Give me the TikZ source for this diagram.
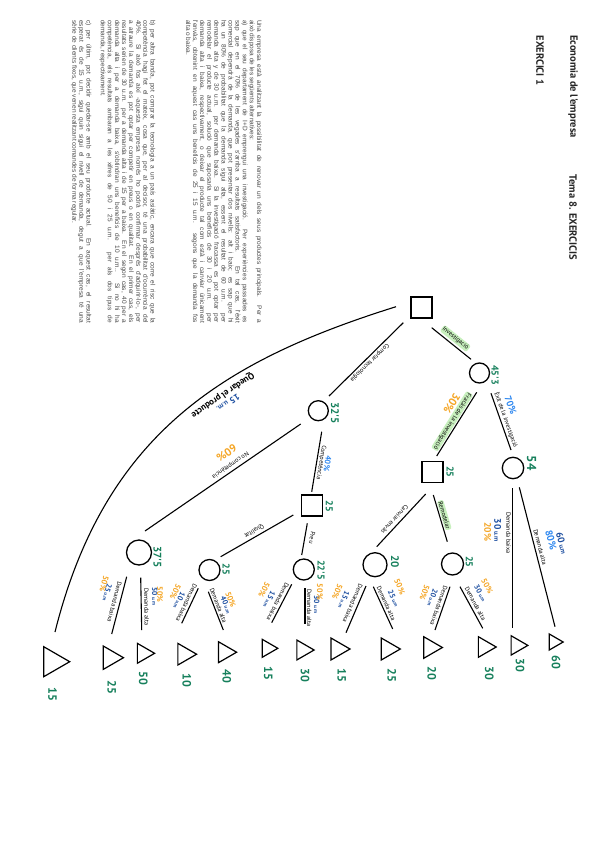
\documentclass[tikz,border=0pt]{standalone}
\usepackage{fontspec}
\setmainfont{Liberation Sans}
\newfontfamily\hand{PT Sans}
\usetikzlibrary{calc,shapes.geometric}
\definecolor{tgreen}{RGB}{22,128,92}
\definecolor{dblue}{RGB}{28,78,160}
\definecolor{bblue}{RGB}{45,135,240}
\definecolor{orng}{RGB}{245,165,35}
\definecolor{hl}{RGB}{200,240,190}
\definecolor{bodygray}{RGB}{75,75,75}
\newcommand\umv[1]{#1\,{\fontsize{5}{5}\selectfont u.m}}
\newcommand\umV[1]{#1\,{\fontsize{6.5}{6.5}\selectfont u.m}}
\begin{document}
\begin{tikzpicture}[x=1pt,y=-1pt,
  sq/.style={draw, line width=1.3pt, minimum size=21pt, inner sep=0},
  ch/.style={draw, circle, line width=1.3pt, minimum size=21pt, inner sep=0},
  leaf/.style={draw, regular polygon, regular polygon sides=3, rotate=-90, line width=1.2pt, minimum size=23pt, inner sep=0},
  edge/.style={line width=1.1pt},
  val/.style={text=tgreen, font=\hand\bfseries\fontsize{10}{10}\selectfont, rotate=-90, inner sep=0},
  leafval/.style={text=tgreen, font=\hand\bfseries\fontsize{12}{12}\selectfont, rotate=-90, inner sep=0},
  el/.style={sloped, allow upside down, font=\hand\fontsize{6.2}{6.2}\selectfont, inner sep=0.5pt},
  hlab/.style={el, fill=hl, rounded corners=2pt, inner sep=1pt},
  um/.style={sloped, allow upside down, text=dblue, font=\hand\bfseries\fontsize{7.5}{7.5}\selectfont, inner sep=0.5pt},
  pb/.style={sloped, allow upside down, text=bblue, font=\hand\bfseries\fontsize{8}{8}\selectfont, inner sep=0.5pt},
  po/.style={sloped, allow upside down, text=orng, font=\hand\bfseries\fontsize{8}{8}\selectfont, inner sep=0.5pt},
  title/.style={rotate=-90, font=\hand\bfseries\fontsize{10.5}{10.5}\selectfont, text=black!85, inner sep=0},
  body/.style={rotate=-90, anchor=north west, text width=303pt, align=justify, font=\fontsize{6.5}{7.1}\selectfont, text=bodygray, inner sep=0},
]
\useasboundingbox[fill=white] (0,0) rectangle (599,848);

% titles
\node[title] (t1) at (573,86.5) {Economia de l'empresa};
\node[title] (t2) at (573,217.5) {Tema 8. EXERCICIS};
\node[title] (t3) at (540,60.5) {EXERCICI 1};

% statement
\node[body] (pa) at (262,20) {Una empresa està analitzant la possibilitat de renovar un dels seus productes principals. Per a\linebreak
això disposa de les següents alternatives:\par
\hangindent=5.5pt\hangafter=1 a) que el seu departament de I+D emprengui una investigació. Per experiències passades es\linebreak
sap que en el 70\% de les vegades s'arriba a resultats satisfactoris. En tal cas, l'èxit\linebreak
comercial dependrà de la demanda, que pot presentar dos nivells: alt i baix; es sap que hi\linebreak
ha un 80\% de probabilitat que la demanda sigui alta, essent el resultat de 60 u.m. per\linebreak
demanda alta y de 30 u.m. per demanda baixa. Si la investigació fracassa es pot optar per\linebreak
remodelar el producte actual, solució que suposaria uns beneficis de 30 i 20 u.m. per\linebreak
demanda alta i baixa, respectivament, o deixar el producte tal com està i canviar únicament\linebreak
l'envàs, obtenint en aquest cas uns beneficis de 25 i 15 u.m. segons que la demanda fos\linebreak
alta o baixa.};

\node[body] (pb) at (155.5,20) {\hangindent=6pt\hangafter=1 b) per altra banda, pot comprar la tecnologia a un país asiàtic, encara que corre el risc que la\linebreak
competència hagi fet el mateix, cosa que, per al decisor, té una probabilitat d'ocurrència del\linebreak
40\%. Si això fos així -aquesta empresa només ho podrà confirmar després d'adquirir-lo-, per\linebreak
a atraure la demanda es pot optar per competir en preus o en qualitat. En el primer cas, els\linebreak
resultats serien de 30 u.m. per a demanda alta i de 15 per a baixa. En el segon cas, 40 per a\linebreak
demanda alta i per a demanda baixa, s'obtindran uns beneficis de 10 u.m.. Si no hi ha\linebreak
competència, els resultats arribaran a les xifres de 50 i 25 u.m. per als dos tipus de\linebreak
demanda, respectivament.};

\node[body] (pc) at (91.5,20) {\hangindent=6pt\hangafter=1 c) per últim, pot decidir quedar-se amb el seu producte actual. En aquest cas, el resultat\linebreak
esperat és de 15 u.m., sigui quin sigui el nivell de demanda, degut a que l'empresa té una\linebreak
sèrie de clients fixos, que venen realitzant comandes de forma regular.};

% decision and chance nodes
\node[sq] (root) at (421.5,307.5) {};
\node[ch, minimum size=20pt] (inv) at (479.5,373) {};
\node[ch, minimum size=21.4pt] (exit) at (513,468) {};
\node[sq] (fail) at (432.5,472) {};
\node[ch, minimum size=20pt] (comp) at (318.3,410.7) {};
\node[sq] (compsq) at (312,505.5) {};
\node[ch, minimum size=25pt] (nocomp) at (139,552.5) {};
\node[ch] (qual) at (209.5,570) {};
\node[ch] (preu) at (303.8,569.5) {};
\node[ch, minimum size=24pt] (envas) at (375,564.7) {};
\node[ch, minimum size=22pt] (remod) at (452.5,564) {};

% leaves
\node[leaf, minimum size=18.5pt] (t60) at (553.9,642) {};
\node[leaf, minimum size=22.3pt] (t30a) at (516.7,645.4) {};
\node[leaf, minimum size=23.8pt] (t30b) at (484.3,647) {};
\node[leaf, minimum size=25pt] (t20a) at (429.9,647.5) {};
\node[leaf, minimum size=25.4pt] (t25a) at (387.6,649) {};
\node[leaf, minimum size=25.4pt] (t15a) at (337.3,649) {};
\node[leaf, minimum size=23pt] (t30c) at (302.6,650) {};
\node[leaf, minimum size=20.8pt] (t15b) at (267.4,648.3) {};
\node[leaf, minimum size=24.2pt] (t40) at (224.5,652.2) {};
\node[leaf, minimum size=25pt] (t10) at (184.1,654.2) {};
\node[leaf, minimum size=23pt] (t50) at (143.1,653.3) {};
\node[leaf, minimum size=27pt] (t25b) at (110,657.7) {};
\node[leaf, minimum size=34.6pt] (t15q) at (52.4,661.7) {};

% node values
\node[val] (v45) at (495,375) {45'3};
\node[val, font=\hand\bfseries\fontsize{13}{13}\selectfont] (v54) at (531.7,463) {54};
\node[val] (v25f) at (450,471.7) {25};
\node[val, font=\hand\bfseries\fontsize{11}{11}\selectfont] (v325) at (335,413) {32'5};
\node[val] (v25c) at (329.3,506) {25};
\node[val, font=\hand\bfseries\fontsize{11}{11}\selectfont] (v375) at (157.3,557) {37'5};
\node[val] (v25q) at (226,569) {25};
\node[val] (v225) at (321,570) {22'5};
\node[val, font=\hand\bfseries\fontsize{11}{11}\selectfont] (v20e) at (395,561.7) {20};
\node[val] (v25r) at (469.3,561.7) {25};

% leaf values
\node[leafval] (l60) at (556,662.7) {60};
\node[leafval] (l30a) at (520,665) {30};
\node[leafval] (l30b) at (489.3,673.3) {30};
\node[leafval] (l20a) at (431.7,673.3) {20};
\node[leafval] (l25a) at (391.7,675) {25};
\node[leafval] (l15a) at (341.7,675) {15};
\node[leafval] (l30c) at (305,675) {30};
\node[leafval] (l15b) at (268.3,673) {15};
\node[leafval] (l40) at (226.7,676) {40};
\node[leafval] (l10) at (186.7,680) {10};
\node[leafval] (l50) at (143.3,678) {50};
\node[leafval] (l25b) at (111.7,687) {25};
\node[leafval] (l15q) at (52.5,694) {15};

% first-level branches
\draw[edge] ($(root)+(10.2,20.2)$) -- node[hlab, pos=.5, above=2pt] {Investigació} ($(inv)+(-8.5,-13.7)$);
\draw[edge] ($(inv)+(11.5,20.3)$) -- node[el, pos=.5, above=1pt] {Èxit de la investigació} node[pb, pos=.3, above=10pt, font=\hand\bfseries\fontsize{9.5}{9.5}\selectfont] {70\%} ($(exit)+(-2,-18)$);
\draw[edge] ($(inv)+(-2.8,19.3)$) -- node[hlab, pos=.5, below=1pt] {Fracàs de la investigació} node[po, pos=.3, below=10pt, font=\hand\bfseries\fontsize{11}{11}\selectfont] {30\%} ($(fail)+(4.2,-16)$);
\draw[edge] ($(root)+(-18.2,15.2)$) -- node[el, pos=.5, above=1pt] {Comprar tecnologia} ($(comp)+(10.7,-14.7)$);
\draw[edge] ($(comp)+(3.4,21)$) -- node[el, pos=.5, above=0.5pt] {Competència} node[pb, pos=.5, above=7pt] {40\%} ($(compsq)+(-0.3,-13.8)$);
\draw[edge] ($(comp)+(-17.6,13.3)$) -- node[el, pos=.43, below=2pt] {No competència} node[po, pos=.41, below=13pt, font=\hand\bfseries\fontsize{11}{11}\selectfont] {60\%} ($(nocomp)+(6,-21.5)$);
\draw[edge] ($(compsq)+(-18.7,9.5)$) -- node[el, pos=.5, below=2pt] {Qualitat} ($(qual)+(11.2,-13.3)$);
\draw[edge] ($(compsq)+(-4.7,17.8)$) -- node[el, pos=.42, above=4pt] {Preu} ($(preu)+(-2.1,-14.5)$);
\draw[edge] ($(fail)+(-6.8,22)$) -- node[el, pos=.55, below=2pt] {Canviar envàs} ($(envas)+(1.7,-18)$);
\draw[edge] ($(fail)+(0.8,23)$) -- node[hlab, pos=.46, above=1pt] {Remodelar} ($(remod)+(-5.2,-22.3)$);

% quedar el producte
\draw[edge] ($(root)+(-25.5,-0.8)$) .. controls (226,360) and (105,432) .. node[pos=.40, sloped, allow upside down, above=5pt, font=\hand\bfseries\fontsize{9}{9}\selectfont, inner sep=0.5pt] {Quedar el producte} node[um, pos=.40, above=16pt, font=\hand\bfseries\fontsize{9}{9}\selectfont] {15 {\fontsize{7}{7}\selectfont u.m.}} ($(t15q)+(2.6,-29.7)$);

% demand branches
\draw[edge] ($(exit)+(-0.7,20.3)$) -- node[el,pos=.32,below=0.5pt]{Demanda baixa} node[um,pos=.3,below=10pt,font=\hand\bfseries\fontsize{9.5}{9.5}\selectfont]{\umV{30}} node[po,pos=.31,below=20pt,font=\hand\bfseries\fontsize{9.5}{9.5}\selectfont]{20\%} ($(t30a)+(-4.4,-17.1)$);
\draw[edge] ($(exit)+(6.3,19.3)$) -- node[el,pos=.44,above=2pt]{Demanda alta} node[pb,pos=.41,above=13pt,font=\hand\bfseries\fontsize{10}{10}\selectfont]{80\%} node[um,pos=.45,above=23pt,font=\hand\bfseries\fontsize{9.5}{9.5}\selectfont]{\umV{60}} ($(t60)+(1.1,-15.3)$);
\draw[edge] ($(remod)+(-2.5,22.7)$) -- node[el,pos=.47,below=1pt]{Demanda baixa} node[um,pos=.35,below=9pt]{\umv{20}} node[po,pos=.3,below=18pt]{50\%} ($(t20a)+(5.1,-17.5)$);
\draw[edge] ($(remod)+(7.5,22.7)$) -- node[el,pos=.47,above=2pt]{Demanda alta} node[um,pos=.33,above=11pt]{\umv{30}} node[po,pos=.27,above=20pt]{50\%} ($(t30b)+(-1.6,-18.7)$);
\draw[edge] ($(envas)+(-9,21.3)$) -- node[el,pos=.42,below=2pt]{Demanda baixa} node[um,pos=.42,below=11pt]{\umv{15}} node[po,pos=.33,below=20pt]{50\%} ($(t15a)+(8.7,-16.3)$);
\draw[edge] ($(envas)+(-1.7,22)$) -- node[el,pos=.44,above=1.5pt]{Demanda alta} node[um,pos=.41,above=10pt]{\umv{25}} node[po,pos=.24,above=20pt]{50\%} ($(t25a)+(5.1,-20)$);
\draw[edge] ($(preu)+(1.2,18.8)$) -- node[el,pos=.55,above=1pt]{Demanda alta} node[um,pos=.45,above=8pt]{\umv{30}} node[po,pos=.1,above=11pt]{50\%} ($(t30c)+(2.4,-26)$);
\draw[edge] ($(preu)+(-12.1,14.8)$) -- node[el,pos=.5,below=1pt]{Demanda baixa} node[um,pos=.55,below=9pt]{\umv{15}} node[po,pos=.4,below=18pt]{50\%} ($(t15b)+(4.3,-25.6)$);
\draw[edge] ($(qual)+(-11.2,18.3)$) -- node[el,pos=.47,below=1pt]{Demanda baixa} node[um,pos=.5,below=8pt]{\umv{10}} node[po,pos=.34,below=15pt]{50\%} ($(t10)+(-2.4,-30.9)$);
\draw[edge] ($(qual)+(-1.2,21.7)$) -- node[el,pos=.4,above=1pt]{Demanda alta} node[um,pos=.46,above=8pt]{\umv{40}} node[po,pos=.38,above=14pt]{50\%} ($(t40)+(-1.2,-22.2)$);
\draw[edge] ($(nocomp)+(-12.3,24.2)$) -- node[el,pos=.47,below=2pt]{Demanda baixa} node[um,pos=.34,below=11pt]{\umv{25}} node[po,pos=.21,below=16pt]{50\%} ($(t25b)+(1.7,-23.7)$);
\draw[edge] ($(nocomp)+(1.7,25.2)$) -- node[el,pos=.56,above=2pt]{Demanda alta} node[um,pos=.36,above=10pt]{\umv{50}} node[po,pos=.33,above=15pt]{50\%} ($(t50)+(-1.4,-23.3)$);
\end{tikzpicture}
\end{document}
